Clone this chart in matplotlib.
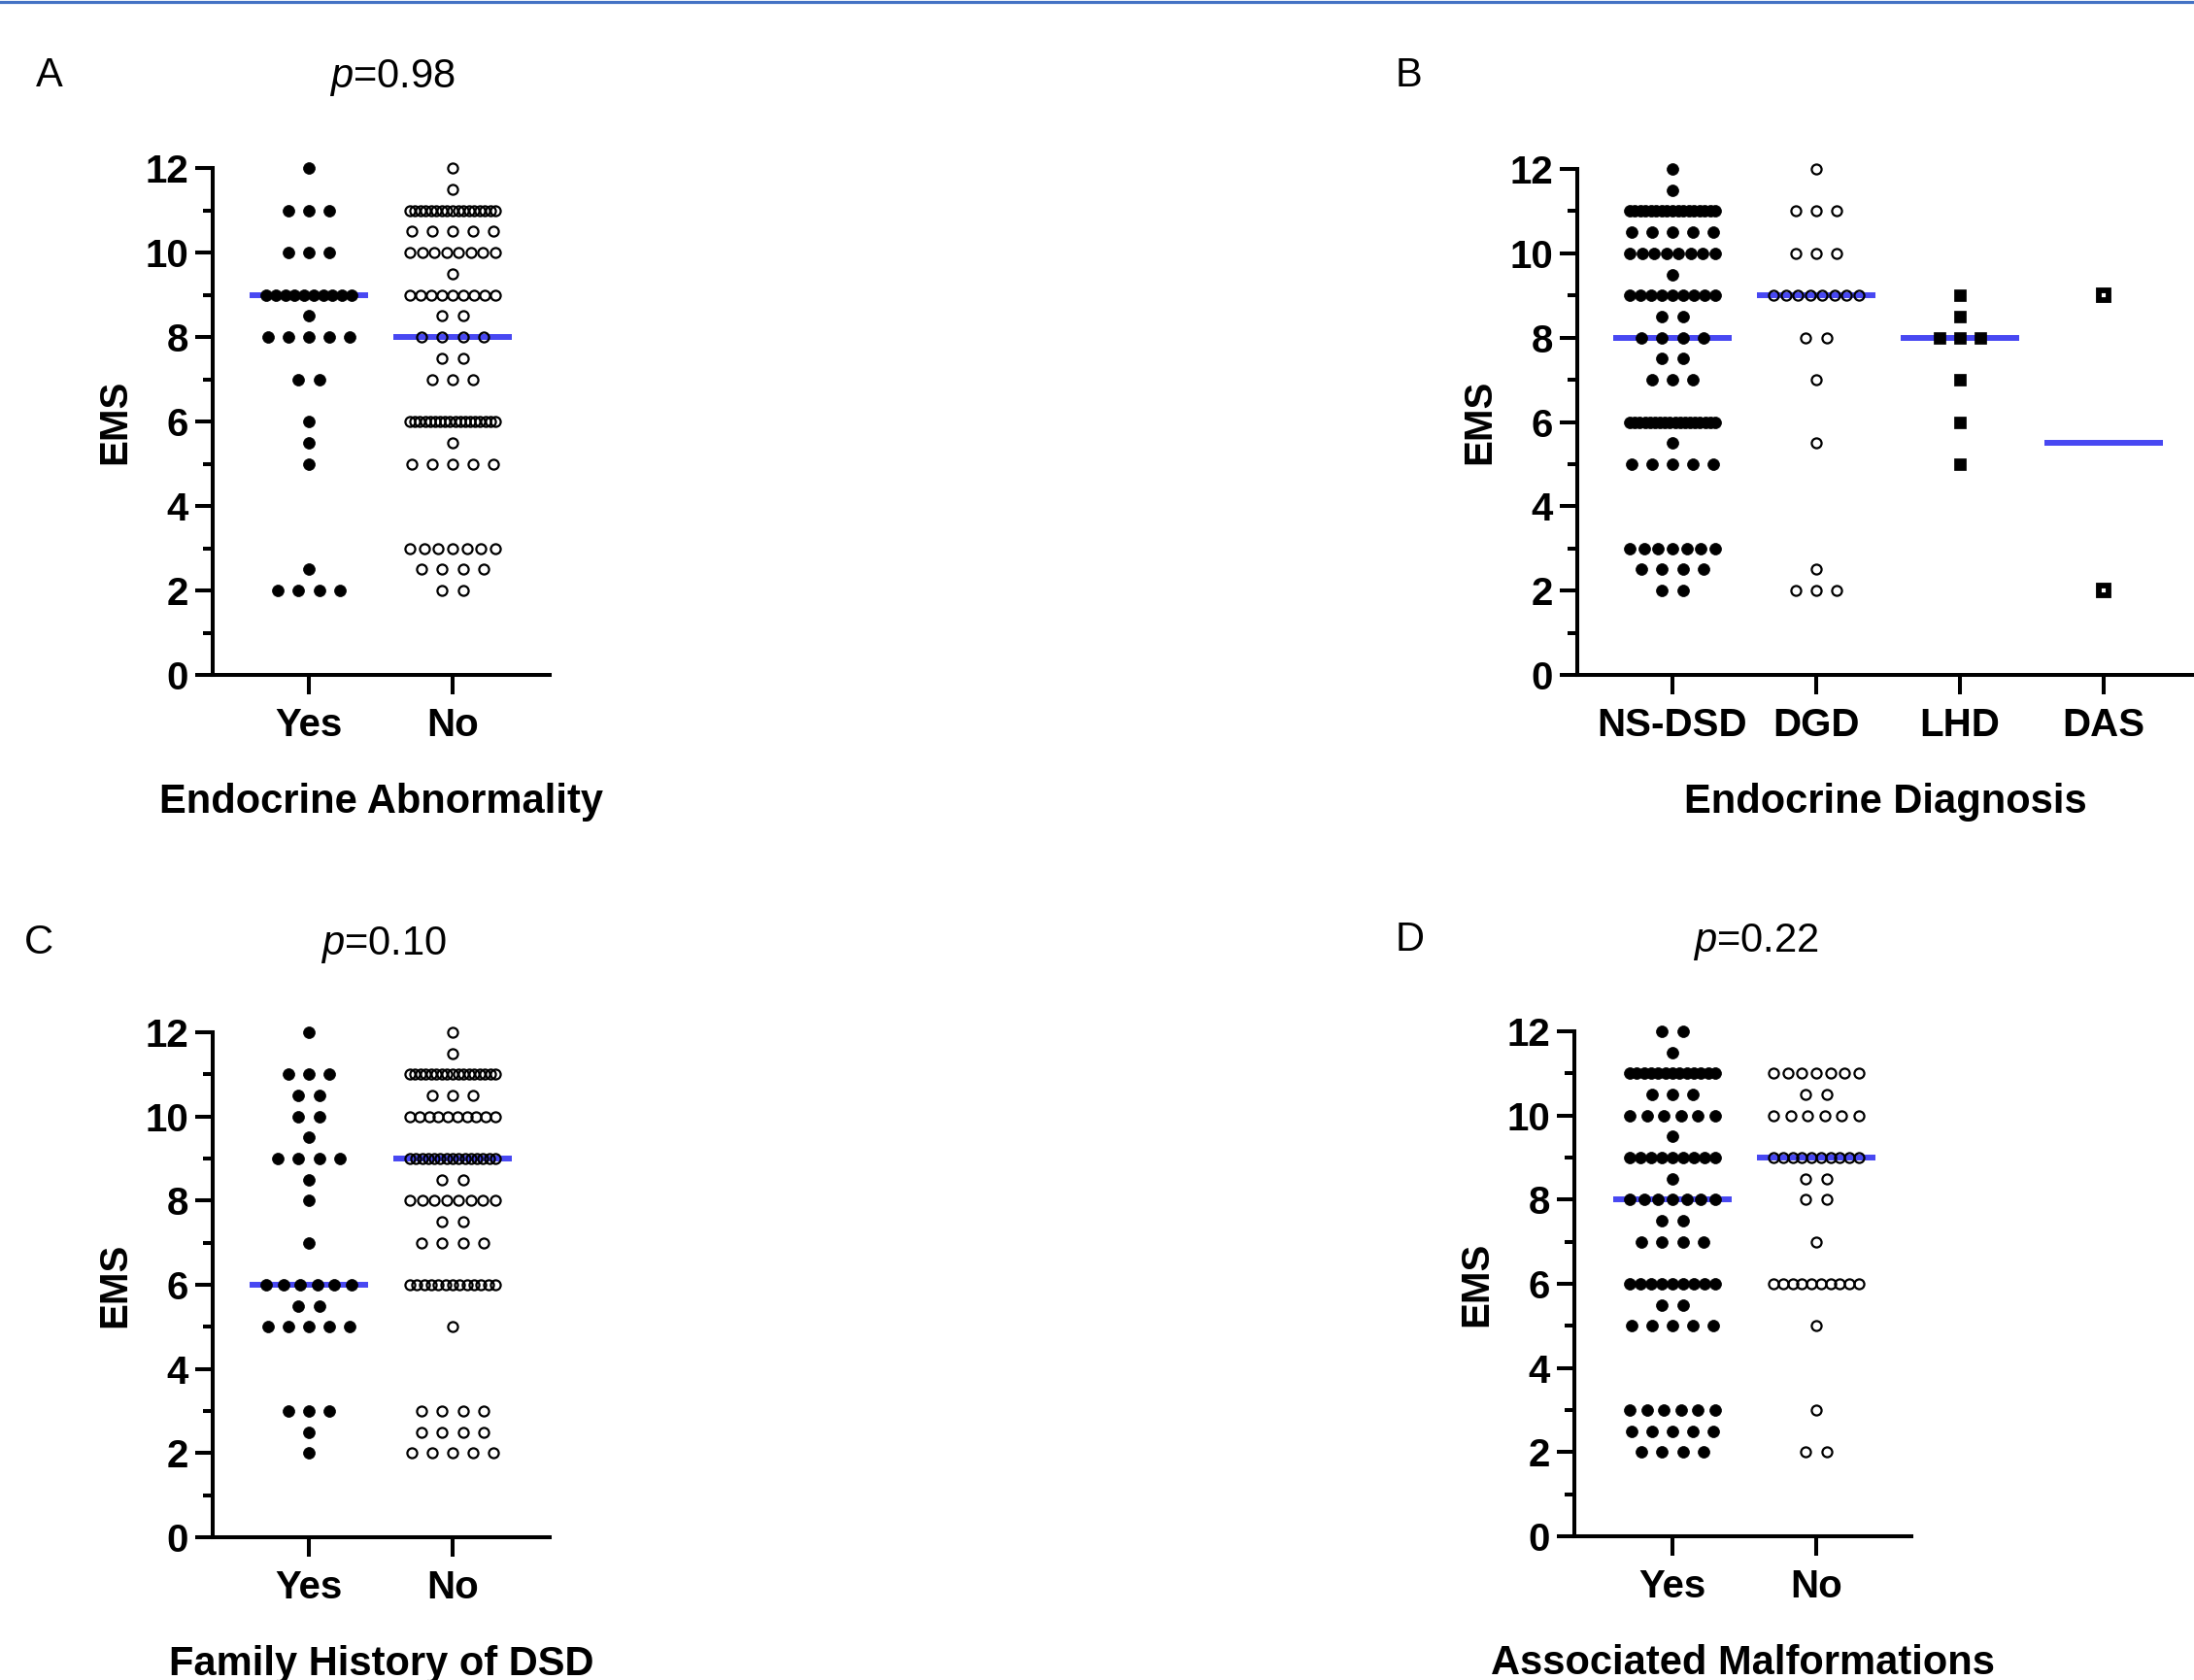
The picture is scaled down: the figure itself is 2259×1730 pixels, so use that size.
import numpy as np
import matplotlib
matplotlib.use('Agg')
import matplotlib.pyplot as plt
from matplotlib.lines import Line2D

plt.rcParams['font.family'] = ['Liberation Sans', 'DejaVu Sans']
plt.rcParams['mathtext.fontset'] = 'custom'
plt.rcParams['mathtext.it'] = 'Liberation Sans:italic'
plt.rcParams['mathtext.rm'] = 'Liberation Sans'

# EMS score values and number of patients at each value
a_yes_vals = [12, 11, 10, 9, 8.5, 8, 7, 6, 5.5, 5, 2.5, 2]
a_yes_cnt = [1, 3, 3, 10, 1, 5, 2, 1, 1, 1, 1, 4]
a_no_vals = [12, 11.5, 11, 10.5, 10, 9.5, 9, 8.5, 8, 7.5, 7, 6, 5.5, 5, 3, 2.5, 2]
a_no_cnt = [1, 1, 17, 5, 8, 1, 9, 2, 4, 2, 3, 18, 1, 5, 7, 4, 2]

b_nsdsd_vals = [12, 11.5, 11, 10.5, 10, 9.5, 9, 8.5, 8, 7.5, 7, 6, 5.5, 5, 3, 2.5, 2]
b_nsdsd_cnt = [1, 1, 17, 5, 8, 1, 9, 2, 4, 2, 3, 18, 1, 5, 7, 4, 2]
b_dgd_vals = [12, 11, 10, 9, 8, 7, 5.5, 2.5, 2]
b_dgd_cnt = [1, 3, 3, 8, 2, 1, 1, 1, 3]
b_lhd_vals = [9, 8.5, 8, 7, 6, 5]
b_lhd_cnt = [1, 1, 3, 1, 1, 1]
b_das_vals = [9, 2]
b_das_cnt = [1, 1]

c_yes_vals = [12, 11, 10.5, 10, 9.5, 9, 8.5, 8, 7, 6, 5.5, 5, 3, 2.5, 2]
c_yes_cnt = [1, 3, 2, 2, 1, 4, 1, 1, 1, 6, 2, 5, 3, 1, 1]
c_no_vals = [12, 11.5, 11, 10.5, 10, 9, 8.5, 8, 7.5, 7, 6, 5, 3, 2.5, 2]
c_no_cnt = [1, 1, 17, 3, 10, 15, 2, 8, 2, 4, 13, 1, 4, 4, 5]

d_yes_vals = [12, 11.5, 11, 10.5, 10, 9.5, 9, 8.5, 8, 7.5, 7, 6, 5.5, 5, 3, 2.5, 2]
d_yes_cnt = [2, 1, 13, 3, 6, 1, 9, 1, 7, 2, 4, 9, 2, 5, 6, 5, 4]
d_no_vals = [11, 10.5, 10, 9, 8.5, 8, 7, 6, 5, 3, 2]
d_no_cnt = [7, 2, 6, 10, 2, 2, 1, 10, 1, 1, 2]

yes_no = ['Yes', 'No']
b_cats = ['NS-DSD', 'DGD', 'LHD', 'DAS']

W, H = 2259, 1730
BLUE = '#4848f2'
LW = 2.9
FS = 29

filled = dict(marker='o', ms=8.6, mfc='black', mec='black', mew=0.5)
hollow = dict(marker='o', ms=7.3, mfc='none', mec='black', mew=1.6)
square = dict(marker='s', ms=8.0, mfc='black', mec='black', mew=0.5)
hsquare = dict(marker='s', ms=7.0, mfc='white', mec='black', mew=4.2)

fig = plt.figure(figsize=(W / 100, H / 100), dpi=100)
fig.add_artist(Line2D([0, 1], [1 - 1.5 / H] * 2, transform=fig.transFigure,
                      color='#4472c4', lw=2.3))


def swarm(ax, xc, vals, cnt, style):
    xs, ys = [], []
    for v, n in zip(vals, cnt):
        gap = 0.142 if n < 2 else min(0.142, 0.595 / (n - 1))
        off = (np.arange(n) - (n - 1) / 2) * gap
        xs += list(xc + off)
        ys += [v] * n
    ax.plot(xs, ys, ls='none', clip_on=False, zorder=3, **style)
    med = np.median(np.repeat(vals, cnt))
    ax.plot([xc - 0.415, xc + 0.415], [med, med], color=BLUE, lw=4.3,
            solid_capstyle='butt', zorder=2, clip_on=False)


def panel(box, xc0, cats, groups, xlabel):
    left, top, right, bottom = box
    ax = fig.add_axes([left / W, 1 - bottom / H, (right - left) / W, (bottom - top) / H])
    unit = 148.0
    ax.set_xlim(-(xc0 - left) / unit, (right - xc0) / unit)
    ax.set_ylim(0, 12)
    for i, (vals, cnt, style) in enumerate(groups):
        swarm(ax, i, vals, cnt, style)
    for s in ['top', 'right']:
        ax.spines[s].set_visible(False)
    for s in ['left', 'bottom']:
        ax.spines[s].set_linewidth(LW)
        ax.spines[s].set_capstyle('projecting')
    ax.set_yticks(range(0, 13, 2))
    ax.set_yticklabels([str(v) for v in range(0, 13, 2)], fontweight='bold')
    ax.set_yticks(range(1, 12, 2), minor=True)
    ax.set_xticks(range(len(cats)))
    ax.set_xticklabels(cats, fontweight='bold')
    ax.tick_params(axis='y', which='major', length=13, width=LW, labelsize=FS, pad=5)
    ax.tick_params(axis='y', which='minor', length=7, width=LW)
    ax.tick_params(axis='x', length=14.5, width=LW, labelsize=FS, pad=9)
    ax.set_ylabel('EMS', fontsize=FS, fontweight='bold', va='baseline')
    ax.yaxis.set_label_coords(-90 / (right - left), 0.5)
    ax.set_xlabel(xlabel, fontsize=30, fontweight='bold', va='baseline')
    ax.xaxis.set_label_coords(0.5, -142 / (bottom - top))
    return ax


panel((219, 173, 566, 695), 318, yes_no,
      [(a_yes_vals, a_yes_cnt, filled), (a_no_vals, a_no_cnt, hollow)],
      'Endocrine Abnormality')
panel((1624, 174, 2259, 695), 1722, b_cats,
      [(b_nsdsd_vals, b_nsdsd_cnt, filled), (b_dgd_vals, b_dgd_cnt, hollow),
       (b_lhd_vals, b_lhd_cnt, square), (b_das_vals, b_das_cnt, hsquare)],
      'Endocrine Diagnosis')
panel((219, 1063, 566, 1583), 318, yes_no,
      [(c_yes_vals, c_yes_cnt, filled), (c_no_vals, c_no_cnt, hollow)],
      'Family History of DSD')
panel((1621, 1062, 1968, 1582), 1722, yes_no,
      [(d_yes_vals, d_yes_cnt, filled), (d_no_vals, d_no_cnt, hollow)],
      'Associated Malformations')

# panel letters and p values
for lab, x, y in [('A', 51, 89), ('B', 1451, 89), ('C', 40, 982), ('D', 1452, 979)]:
    fig.text(x / W, 1 - y / H, lab, fontsize=30, ha='center', va='baseline')
for txt, x, y in [('$p$=0.98', 404, 90), ('$p$=0.10', 395, 983), ('$p$=0.22', 1808, 980)]:
    fig.text(x / W, 1 - y / H, txt, fontsize=30, ha='center', va='baseline')

fig.savefig('out.png', dpi=100)
